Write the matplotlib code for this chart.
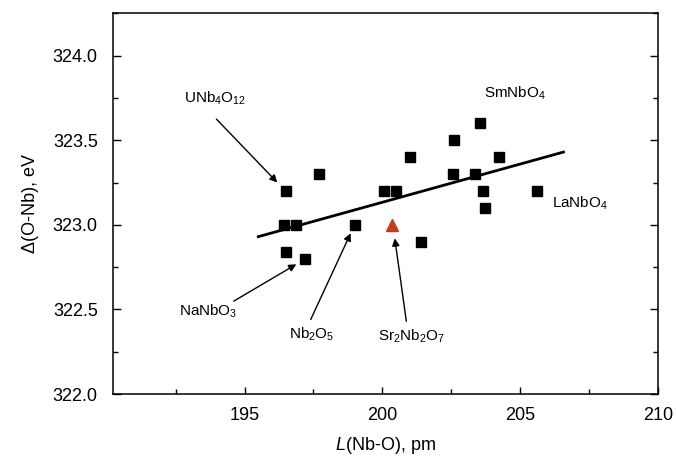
import matplotlib
matplotlib.use('Agg')
import matplotlib.pyplot as plt
from matplotlib.ticker import MultipleLocator, FormatStrFormatter

plt.rcParams['font.family'] = ['Liberation Sans', 'DejaVu Sans']
plt.rcParams['mathtext.fontset'] = 'custom'
plt.rcParams['mathtext.rm'] = 'Liberation Sans'
plt.rcParams['mathtext.it'] = 'Liberation Sans:italic'

# Nb-O bond length (pm) vs Delta(O-Nb) (eV), niobates
bond_len = [196.5, 197.7, 200.06, 200.49, 201.0, 196.45, 196.85, 199.0, 201.4,
            196.5, 197.19, 203.54, 202.6, 204.22, 202.56, 203.35, 203.64, 205.61, 203.73]
delta_e = [323.2, 323.3, 323.2, 323.2, 323.4, 323.0, 323.0, 323.0, 322.9,
           322.84, 322.8, 323.6, 323.5, 323.4, 323.3, 323.3, 323.2, 323.2, 323.1]

# Sr2Nb2O7 (highlighted)
sr_len = [200.35]
sr_delta = [323.0]

# linear trend, endpoints
fit_x = [195.5, 206.57]
fit_y = [322.93, 323.43]

fig = plt.figure(figsize=(6.76, 4.61), dpi=100)
ax = fig.add_axes([0.1672, 0.1453, 0.9734 - 0.1672, 0.9711 - 0.1453])

ax.plot(fit_x, fit_y, color='black', linewidth=2.0, zorder=2)
ax.plot(bond_len, delta_e, 'ks', markersize=6.6, zorder=3)
ax.plot(sr_len, sr_delta, '^', color='#c63d1e', markersize=9, zorder=3)

arrow = dict(arrowstyle='-|>', color='black', lw=1.0, mutation_scale=11,
             shrinkA=0, shrinkB=0)
# labels
ax.text(192.79, 323.746, 'UNb$_4$O$_{12}$', ha='left', va='center', fontsize=11)
ax.text(192.61, 322.49, 'NaNbO$_3$', ha='left', va='center', fontsize=11)
ax.text(197.43, 322.35, 'Nb$_2$O$_5$', ha='center', va='center', fontsize=11)
ax.text(201.06, 322.34, 'Sr$_2$Nb$_2$O$_7$', ha='center', va='center', fontsize=11)
ax.text(203.67, 323.78, 'SmNbO$_4$', ha='left', va='center', fontsize=11)
ax.text(206.17, 323.13, 'LaNbO$_4$', ha='left', va='center', fontsize=11)
# arrows
ax.annotate('', xy=(196.19, 323.25), xytext=(193.98, 323.625), arrowprops=arrow)
ax.annotate('', xy=(196.88, 322.767), xytext=(194.61, 322.549), arrowprops=arrow)
ax.annotate('', xy=(198.85, 322.95), xytext=(197.40, 322.44), arrowprops=arrow)
ax.annotate('', xy=(200.45, 322.92), xytext=(200.87, 322.43), arrowprops=arrow)

ax.set_xlim(190.23, 210)
ax.set_ylim(322.0, 324.25)
ax.xaxis.set_major_locator(MultipleLocator(5))
ax.xaxis.set_minor_locator(MultipleLocator(2.5))
ax.yaxis.set_major_locator(MultipleLocator(0.5))
ax.yaxis.set_minor_locator(MultipleLocator(0.25))
ax.yaxis.set_major_formatter(FormatStrFormatter('%.1f'))

ax.tick_params(axis='both', which='both', direction='in', right=True, top=False,
               labelsize=13, width=1.0)
ax.tick_params(axis='x', which='major', length=5, pad=9)
ax.tick_params(axis='y', which='major', length=6, pad=11)
ax.tick_params(which='minor', length=3.5)
for s in ax.spines.values():
    s.set_linewidth(1.1)

ax.set_xlabel('$\\it{L}$(Nb-O), pm', fontsize=13, labelpad=8)
ax.set_ylabel('Δ(O-Nb), eV', fontsize=13, labelpad=10)

fig.savefig('out.png', dpi=100)
